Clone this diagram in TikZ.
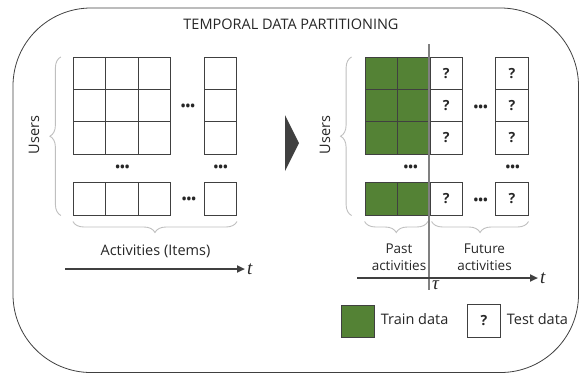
\documentclass[tikz,border=0pt]{standalone}
\usepackage{fontspec}
\setmainfont{Open Sans}
\newfontfamily\varfont{Liberation Serif}
\usepackage{tikz}
\usetikzlibrary{arrows.meta, positioning, decorations.pathreplacing}

\definecolor{traingreen}{RGB}{84,130,53}
\definecolor{celledge}{RGB}{64,64,64}
\definecolor{bracegray}{RGB}{191,191,191}
\definecolor{inkgray}{RGB}{38,38,38}
\definecolor{taugray}{RGB}{128,128,128}

\begin{document}
\begin{tikzpicture}[x=1pt, y=-1pt,
    every node/.style={text=inkgray},
    cell/.style={draw=celledge, line width=0.9pt, minimum size=32.3pt, inner sep=0pt},
    traincell/.style={cell, fill=traingreen},
    testcell/.style={cell, fill=white, font=\fontsize{14}{16}\selectfont\bfseries},
    dots/.style={font=\fontsize{12.5}{14}\selectfont\bfseries, inner sep=0pt},
    brace/.style={draw=bracegray, line width=0.9pt, decorate, decoration={brace, amplitude=11pt}},
    label/.style={font=\fontsize{14.5}{17}\selectfont, inner sep=0pt},
    smalllabel/.style={font=\fontsize{13.5}{16}\selectfont, inner sep=0pt},
    timevar/.style={font=\fontsize{19}{21}\selectfont\varfont\itshape, inner sep=1pt},
    timeaxis/.style={draw=celledge, line width=2.4pt, -{Triangle[length=8pt, width=7pt]}}
]
    \useasboundingbox (0,0) rectangle (579,373);

    % Outer frame
    \draw[celledge, line width=0.8pt, rounded corners=78pt] (13,8) rectangle (578.5,372.5);
    \node[label, anchor=base] (title) at (291,29.3) {TEMPORAL DATA PARTITIONING};

    % Left matrix
    \foreach \r/\y in {1/73.5, 2/105.7, 3/138.0, b/198.9} {
        \foreach \c/\x in {1/89.5, 2/121.8, 3/154.1}
            \node[cell] (left-\r-\c) at (\x,\y) {};
        \node[cell] (left-\r-n) at (220.4,\y) {};
    }
    \node[dots] (ldots-mid) at (188,107) {•••};
    \node[dots] (ldots-bot) at (189,200) {•••};
    \node[dots] (ldots-v1) at (122.5,168) {•••};
    \node[dots] (ldots-v2) at (220.7,168) {•••};

    % Left braces and labels
    \draw[brace] ([xshift=-12pt]left-b-1.south west) -- ([xshift=-12pt]left-1-1.north west);
    \draw[brace] ([yshift=-6pt]left-b-n.south east) -- ([yshift=-6pt]left-b-1.south west);
    \node[label, rotate=90] (users-left) at (34,135) {Users};
    \node[label, anchor=base] (items) at (155.5,255) {Activities (Items)};

    % Left time axis
    \coordinate (tl0) at (65,269);
    \coordinate (tl1) at (245,269);
    \draw[timeaxis] (tl0) -- (tl1) node[timevar, right] (tl) {t};

    % Chevron
    \fill[celledge] (285,115) -- (299,143) -- (285,171) -- cycle;

    % Right matrix
    \foreach \r/\y in {1/73.5, 2/105.7, 3/138.0, b/198.9} {
        \node[traincell] (right-\r-1) at (381.2,\y) {};
        \node[traincell] (right-\r-2) at (413.3,\y) {};
        \node[testcell] (right-\r-q) at (446.2,\y) {?};
    }
    \foreach \r/\y in {1/73.5, 2/105.7, 3/138.0, b/198.9}
        \node[testcell] (right-\r-n) at (511.9,\y) {?};
    \node[dots] (rdots-mid) at (480.7,108) {•••};
    \node[dots] (rdots-bot) at (480.7,201) {•••};
    \node[dots] (rdots-v1) at (410.7,168) {•••};
    \node[dots] (rdots-v2) at (512.7,168) {•••};

    % Right braces and labels
    \draw[brace] ([xshift=-13pt]right-b-1.south west) -- ([xshift=-13pt]right-1-1.north west);
    \draw[brace] ([xshift=-2pt, yshift=-6pt]right-b-2.south east) -- ([yshift=-6pt]right-b-1.south west);
    \draw[brace] ([yshift=-6pt]right-b-n.south east) -- ([xshift=2pt, yshift=-6pt]right-b-q.south west);
    \node[label, rotate=90] (users-right) at (325,135) {Users};
    \node[smalllabel, anchor=base] (past) at (399,253.3) {Past};
    \node[smalllabel, anchor=base] (past-act) at (399,270.7) {activities};
    \node[smalllabel, anchor=base] (future) at (484.5,253.3) {Future};
    \node[smalllabel, anchor=base] (future-act) at (484.5,270.7) {activities};

    % Split time and right time axis
    \coordinate (tautop) at (429.3,44);
    \coordinate (taubot) at (429.3,290);
    \draw[taugray, line width=2.2pt] (tautop) -- (taubot);
    \node[timevar, anchor=base west] (tau) at (431,289) {τ};
    \coordinate (tr0) at (357,278);
    \coordinate (tr1) at (538,278);
    \draw[timeaxis] (tr0) -- (tr1) node[timevar, right] (tr) {t};

    % Legend
    \node[traincell] (train-key) at (358,321.5) {};
    \node[label, anchor=base west] (train-text) at (380.7,324.3) {Train data};
    \node[testcell] (test-key) at (484,321) {?};
    \node[label, anchor=base west] (test-text) at (506.7,324.3) {Test data};
\end{tikzpicture}
\end{document}
